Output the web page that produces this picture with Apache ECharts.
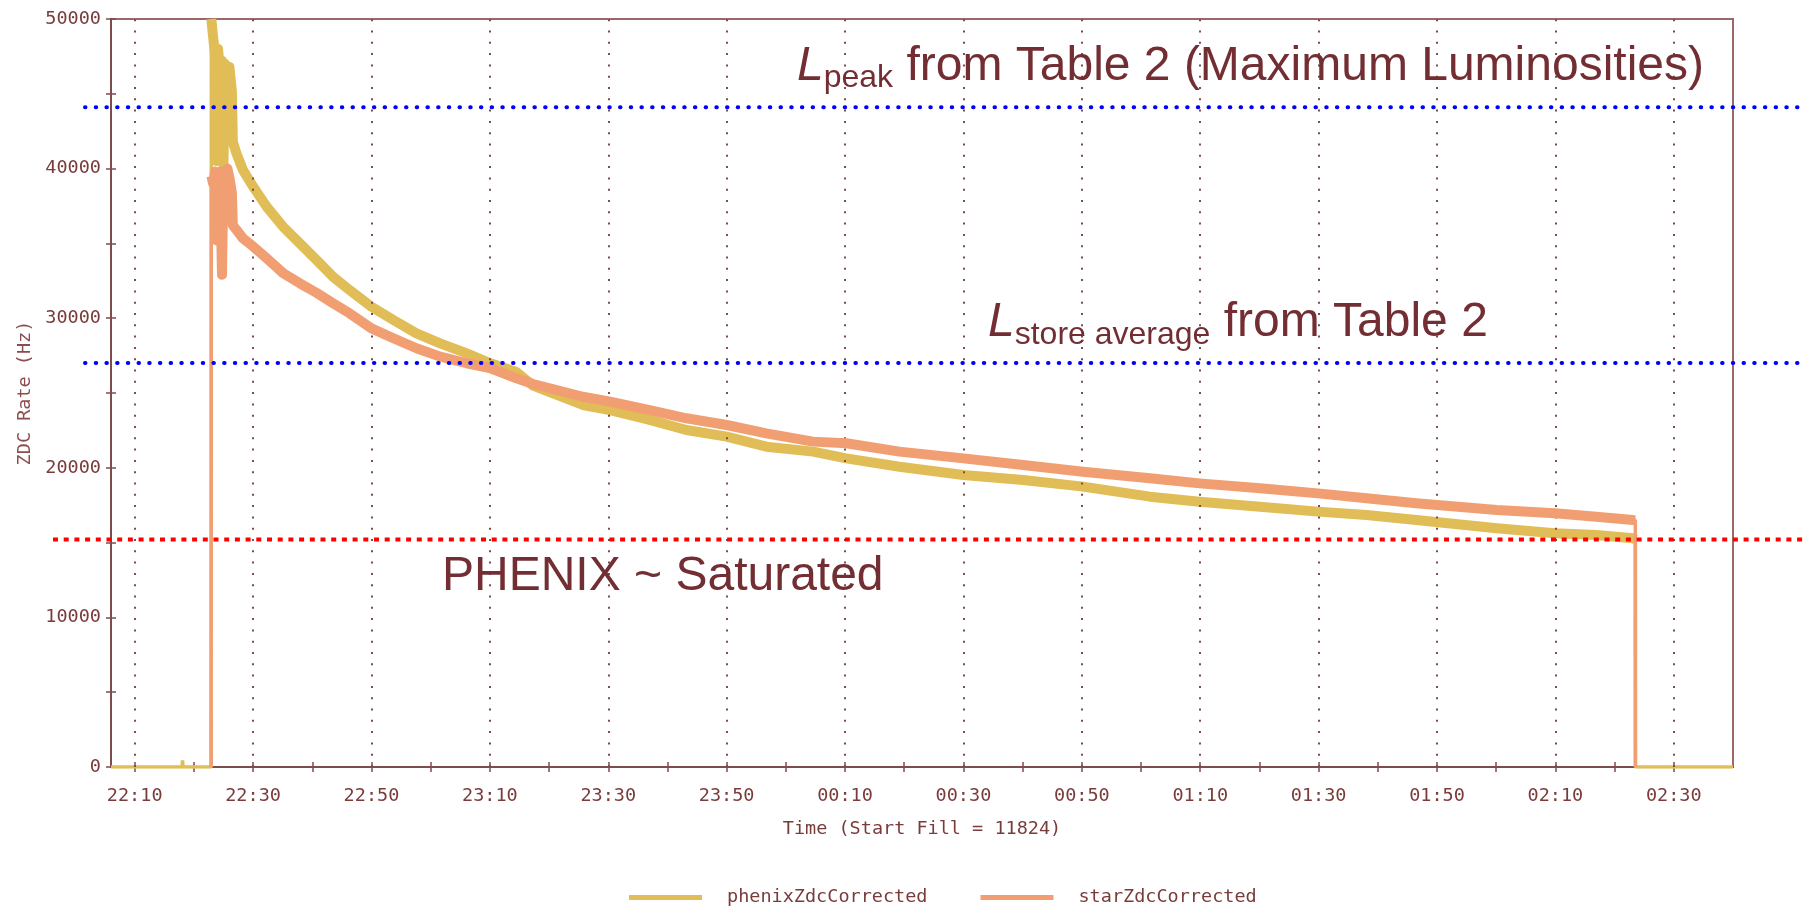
<!DOCTYPE html>
<html>
<head>
<meta charset="utf-8">
<title>ZDC Rate, Fill 11824</title>
<script src="https://cdn.jsdelivr.net/npm/echarts@6/dist/echarts.min.js"></script>
<style>
  html, body { margin: 0; padding: 0; background: #ffffff; }
  #chart { width: 1805px; height: 910px; }
</style>
</head>
<body>
<div id="chart"></div>
<script>
// Sample times (clock time, the store runs past midnight)
const sampleTimes = [
  '22:06:00', '22:18:00', '22:18:05', '22:18:10', '22:22:55',
  '22:22:57', '22:23:15', '22:23:35', '22:23:50', '22:24:05',
  '22:24:25', '22:24:45', '22:25:00', '22:25:15', '22:25:40',
  '22:26:00', '22:26:25', '22:26:35', '22:27:12', '22:28:18',
  '22:30:00', '22:32:18', '22:35:06', '22:37:54', '22:40:42',
  '22:43:30', '22:46:18', '22:50:00', '22:53:42', '22:57:36',
  '23:01:36', '23:06:06', '23:10:00', '23:14:30', '23:17:18',
  '23:25:42', '23:30:18', '23:37:00', '23:43:12', '23:50:00',
  '23:56:42', '00:04:36', '00:10:12', '00:19:12', '00:30:00',
  '00:40:06', '00:50:12', '01:01:30', '01:09:54', '01:20:06',
  '01:29:54', '01:38:06', '01:46:30', '02:00:06', '02:09:54',
  '02:16:54', '02:23:06', '02:23:30', '02:23:31', '02:40:00'
];

// PHENIX ZDC corrected rate (Hz)
const phenixRate = [
  0, 0, 450, 0, 0,
  50000, 48800, 47600, 40500, 48000,
  46500, 47200, 40300, 47000, 45500,
  46800, 45200, 41800, 41000, 39900,
  38800, 37450, 36100, 35000, 33900,
  32770, 31880, 30770, 29880, 28990,
  28320, 27650, 27000, 26400, 25500,
  24200, 23860, 23200, 22530, 22080,
  21410, 21080, 20630, 20070, 19520,
  19180, 18740, 18070, 17730, 17400,
  17070, 16840, 16510, 15960, 15620,
  15510, 15290, 15200, 0, 0
];

// STAR ZDC corrected rate (Hz)
const starRate = [
  0, 0, 0, 0, 0,
  39500, 39000, 39800, 35200, 39300,
  39800, 32900, 39600, 39800, 40000,
  39400, 38400, 36200, 35900, 35340,
  34800, 34000, 33000, 32330, 31700,
  31000, 30330, 29320, 28660, 27990,
  27430, 26990, 26670, 25980, 25600,
  24750, 24420, 23860, 23310, 22860,
  22300, 21750, 21640, 21080, 20630,
  20190, 19740, 19300, 18960, 18630,
  18290, 17960, 17630, 17180, 16960,
  16730, 16510, 16500, 0, 0
];

// Labelled time ticks
const xTickLabels = ['22:10', '22:30', '22:50', '23:10', '23:30', '23:50', '00:10',
                     '00:30', '00:50', '01:10', '01:30', '01:50', '02:10', '02:30'];
const xRange = ['22:06', '02:40'];

// Reference levels (Hz)
const lumPeak = 44100;
const lumStoreAverage = 27000;
const phenixSaturated = 15200;

// ---------------------------------------------------------------------------
const YELLOW = '#e0bd56';
const SALMON = '#f19f72';
const INK = '#7a3b3b';
const AXIS = '#7f4c4c';
const TEXT = '#722e33';
const MONO = '"DejaVu Sans Mono", "Liberation Mono", monospace';
const SANS = '"Liberation Sans", Arial, sans-serif';

function toMinutes(s) {
  const p = s.split(':').map(Number);
  let m = p[0] * 60 + p[1] + (p[2] || 0) / 60;
  if (p[0] < 12) m += 1440;           // after midnight
  return m;
}
function fmtClock(v) {
  const m = Math.round(v);
  const hh = Math.floor(m / 60) % 24;
  const mm = m % 60;
  return String(hh).padStart(2, '0') + ':' + String(mm).padStart(2, '0');
}

const tX = sampleTimes.map(toMinutes);
const phenixAll = tX.map((t, i) => [t, phenixRate[i]]);
const starAll = tX.map((t, i) => [t, starRate[i]]);

// beam-on window (first/last non-zero STAR sample)
const onStart = starRate.findIndex(v => v > 0);
const onEnd = starRate.length - 1 - [...starRate].reverse().findIndex(v => v > 0);

const phenixBand = phenixAll.slice(onStart, onEnd + 1);
const starBand = starAll.slice(onStart, onEnd + 1);
const starEdges = starAll.slice(onStart - 1, onEnd + 2);

const labelVals = xTickLabels.map(toMinutes);
const tickVals = [];
labelVals.forEach((v, i) => { tickVals.push(v); if (i < labelVals.length - 1) tickVals.push(v + 10); });

const xMin = toMinutes(xRange[0]);
const xMax = toMinutes(xRange[1]);

const chart = echarts.init(document.getElementById('chart'), null, { renderer: 'canvas' });

const monoText = { fontFamily: MONO, fontSize: 18.5, color: INK };

const option = {
  animation: false,
  backgroundColor: '#ffffff',
  grid: {
    left: 111, right: 72, top: 19, bottom: 143,
    show: true, borderColor: '#9a6868', borderWidth: 2,
    backgroundColor: 'rgba(0,0,0,0)'
  },
  legend: {
    data: [{ name: 'phenixZdcCorrected' }, { name: 'starZdcCorrected' }],
    left: 624, top: 883,
    icon: 'rect', itemWidth: 73, itemHeight: 5, itemGap: 53,
    selectedMode: false,
    textStyle: Object.assign({}, monoText, { padding: [0, 0, 0, 20] })
  },
  xAxis: [{
    type: 'value', min: xMin, max: xMax,
    name: 'Time (Start Fill = 11824)', nameLocation: 'middle', nameGap: 53,
    nameTextStyle: monoText,
    axisLine: { lineStyle: { color: AXIS, width: 2 } },
    axisTick: { length: 5, customValues: tickVals, lineStyle: { color: AXIS, width: 1.5 } },
    axisLabel: Object.assign({ customValues: labelVals, formatter: fmtClock, margin: 20 }, monoText),
    splitLine: { show: false }
  }, {
    type: 'value', min: xMin, max: xMax, position: 'bottom',
    axisLine: { show: false },
    axisTick: { inside: true, length: 5, customValues: tickVals, lineStyle: { color: AXIS, width: 1.5 } },
    axisLabel: { show: false },
    splitLine: { show: false }
  }],
  yAxis: [{
    type: 'value', min: 0, max: 50000, interval: 10000,
    name: 'ZDC Rate (Hz)', nameLocation: 'middle', nameGap: 69,
    nameTextStyle: Object.assign({}, monoText, { color: '#8a4e4e' }),
    axisLine: { lineStyle: { color: AXIS, width: 2 } },
    axisTick: { length: 5, lineStyle: { color: AXIS, width: 1.5 } },
    minorTick: { show: true, splitNumber: 2, length: 5, lineStyle: { color: AXIS, width: 1.5 } },
    axisLabel: Object.assign({ margin: 10, formatter: v => String(v) }, monoText),
    splitLine: { show: false }
  }, {
    type: 'value', min: 0, max: 50000, interval: 10000, position: 'left',
    axisLine: { show: false },
    axisTick: { inside: true, length: 5, lineStyle: { color: AXIS, width: 1.5 } },
    minorTick: { show: true, splitNumber: 2, length: 5, lineStyle: { color: AXIS, width: 1.5 } },
    axisLabel: { show: false },
    splitLine: { show: false }
  }],
  series: [
    {
      // dotted vertical grid at the labelled times
      type: 'line', data: [], silent: true, z: 1,
      markLine: {
        silent: true, symbol: 'none', animation: false,
        label: { show: false },
        lineStyle: { color: AXIS, width: 2, type: [2, 9.3] },
        data: labelVals.map(v => ({ xAxis: v }))
      }
    },
    {
      name: 'phenixZdcCorrected', type: 'line', data: phenixAll,
      symbol: 'none', silent: true, z: 2,
      itemStyle: { color: YELLOW },
      lineStyle: { color: YELLOW, width: 3.5 }
    },
    {
      name: 'phenixZdcCorrected', type: 'line', data: phenixBand,
      symbol: 'none', silent: true, z: 3,
      itemStyle: { color: YELLOW },
      lineStyle: { color: YELLOW, width: 10, join: 'round' }
    },
    {
      name: 'starZdcCorrected', type: 'line', data: starEdges,
      symbol: 'none', silent: true, z: 4,
      itemStyle: { color: SALMON },
      lineStyle: { color: SALMON, width: 3.5 }
    },
    {
      name: 'starZdcCorrected', type: 'line', data: starBand,
      symbol: 'none', silent: true, z: 5,
      itemStyle: { color: SALMON },
      lineStyle: { color: SALMON, width: 10, join: 'round' }
    }
  ]
};

chart.setOption(option);

// Reference levels and their annotations, placed from the y scale
const yPx = v => chart.convertToPixel({ yAxisIndex: 0 }, v);
const yPeak = yPx(lumPeak);
const yStore = yPx(lumStoreAverage);
const ySat = yPx(phenixSaturated);
const W = chart.getWidth();

const bigText = { fontFamily: SANS, fontSize: 48, lineHeight: 56, fill: TEXT };
const italicL = { fontFamily: SANS, fontSize: 48, lineHeight: 56, fontStyle: 'italic', fill: TEXT };
const subText = { fontFamily: SANS, fontSize: 32, lineHeight: 30, verticalAlign: 'bottom', fill: TEXT };

chart.setOption({
  graphic: [
    {
      type: 'line', silent: true, z: 20,
      shape: { x1: 85, y1: yPeak, x2: W, y2: yPeak },
      style: { stroke: '#0000ff', lineWidth: 4, lineDash: [0.5, 10.2], lineCap: 'round' }
    },
    {
      type: 'line', silent: true, z: 20,
      shape: { x1: 85, y1: yStore, x2: W, y2: yStore },
      style: { stroke: '#0000ff', lineWidth: 4, lineDash: [0.5, 10.2], lineCap: 'round' }
    },
    {
      type: 'line', silent: true, z: 20,
      shape: { x1: 53, y1: ySat, x2: W, y2: ySat },
      style: { stroke: '#ff0000', lineWidth: 4, lineDash: [5, 5.7] }
    },
    {
      type: 'text', silent: true, z: 21,
      x: 797, y: yPeak - 68.7,
      style: {
        text: '{l|L}{s|peak}{t| from Table 2 (Maximum Luminosities)}',
        verticalAlign: 'top', align: 'left',
        rich: { l: italicL, s: subText, t: bigText }
      }
    },
    {
      type: 'text', silent: true, z: 21,
      x: 988, y: yStore - 68.4,
      style: {
        text: '{l|L}{s|store average}{t| from Table 2}',
        verticalAlign: 'top', align: 'left',
        rich: { l: italicL, s: subText, t: bigText }
      }
    },
    {
      type: 'text', silent: true, z: 21,
      x: 442, y: ySat + 37.6,
      style: {
        text: 'PHENIX ~ Saturated',
        font: '48px ' + SANS, fill: TEXT,
        verticalAlign: 'middle', align: 'left'
      }
    }
  ]
});
</script>
</body>
</html>
